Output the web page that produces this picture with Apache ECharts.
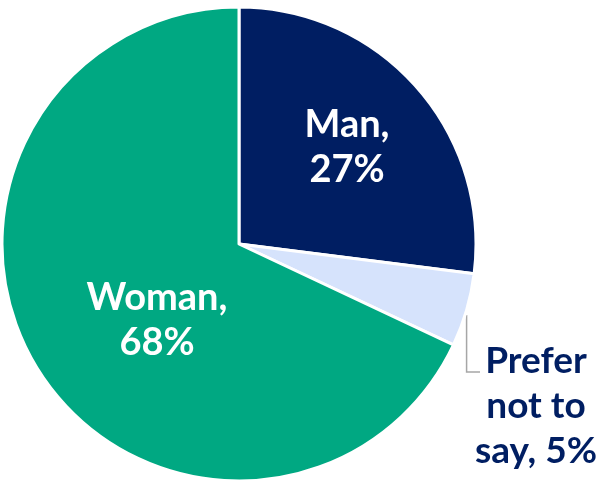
<!DOCTYPE html>
<html>
<head>
<meta charset="utf-8">
<script src="https://cdn.jsdelivr.net/npm/echarts@6/dist/echarts.min.js"></script>
<style>
  html, body { margin: 0; padding: 0; background: #fff; }
  #chart { width: 604px; height: 485px; }
</style>
</head>
<body>
<div id="chart"></div>
<script>
// 数据
var categories = ['Man', 'Prefer not to say', 'Woman'];
var labels = ['Man,\n27%', 'Prefer\nnot to\nsay, 5%', 'Woman,\n68%'];
var values = [27, 5, 68];
var colors = ['#001E62', '#D6E3FC', '#00A882'];

var center = [239, 244];
var radius = 237;

var myChart = echarts.init(document.getElementById('chart'));

var seriesData = [];
for (var i = 0; i < categories.length; i++) {
    seriesData.push({
        name: categories[i],
        value: values[i],
        itemStyle: { color: colors[i] },
        label: {
            position: i === 1 ? 'outside' : 'inside',
            color: i === 1 ? '#001E62' : '#ffffff',
            fontSize: i === 1 ? 37 : 38,
            formatter: labels[i]
        },
        labelLine: { show: false }
    });
}

// 小扇区中线与外圆交点
function sliceEdge(idx) {
    var total = 0, before = 0;
    for (var k = 0; k < values.length; k++) {
        total += values[k];
        if (k < idx) before += values[k];
    }
    var ang = (90 - 360 * (before + values[idx] / 2) / total) * Math.PI / 180;
    return [center[0] + radius * Math.cos(ang), center[1] - radius * Math.sin(ang)];
}

var edge = sliceEdge(1);

myChart.setOption({
    animation: false,
    // 引导线（竖线 + 短横线）
    graphic: [{
        type: 'polyline',
        shape: { points: [[edge[0], edge[1] + 5], [edge[0], 372], [480, 372]] },
        style: { stroke: '#A6A6A6', lineWidth: 1.5, fill: null }
    }],
    series: [{
        type: 'pie',
        center: center,
        radius: radius,
        startAngle: 90,
        clockwise: true,
        itemStyle: {
            borderColor: '#ffffff',
            borderWidth: 3
        },
        label: {
            fontFamily: 'Lato',
            fontWeight: 'bold',
            lineHeight: 45,
            align: 'center',
            overflow: 'none'
        },
        // 标签位置微调
        labelLayout: function (params) {
            if (params.dataIndex === 0) {
                return { x: 347, y: 147, align: 'center', verticalAlign: 'middle' };
            }
            if (params.dataIndex === 2) {
                return { x: 157, y: 320, align: 'center', verticalAlign: 'middle' };
            }
            return {
                x: 536,
                y: 406,
                width: 160,
                align: 'center',
                verticalAlign: 'middle'
            };
        },
        data: seriesData
    }]
});
</script>
</body>
</html>
